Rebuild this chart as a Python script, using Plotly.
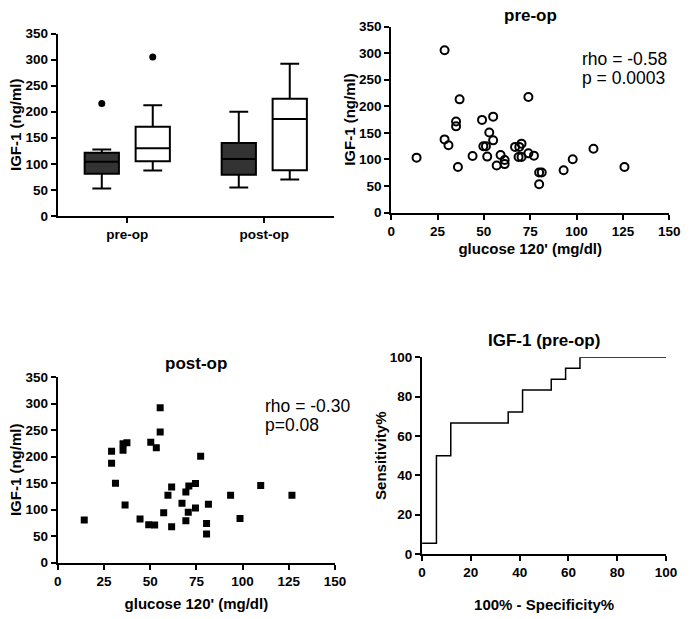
import plotly.graph_objects as go

# ---------------- data ----------------
groups = ["pre-op", "post-op"]
# dark boxes
dark_q1 = [81, 79]
dark_median = [104, 109]
dark_q3 = [121, 140]
dark_low = [52.5, 54.5]
dark_high = [127.5, 200]
dark_outliers = [216]          # pre-op only
# white boxes
white_q1 = [105, 87.5]
white_median = [130, 186]
white_q3 = [171, 225]
white_low = [87, 70]
white_high = [212.5, 292]
white_outliers = [305]         # pre-op only

pre_glucose = [13.7, 28.8, 28.8, 30.9, 35, 35, 36.9, 36, 43.9, 49, 55, 52.9, 55, 49.7, 51.1,
               51.8, 56.9, 59, 61.2, 61.2, 66.8, 69.1, 70.3, 68.7, 70.3, 74, 77, 74, 79.8,
               81.2, 79.8, 93, 97.9, 109.1, 125.8]
pre_igf1 = [103.4, 305.4, 137.7, 126.7, 171.4, 162.2, 213, 85.7, 106.5, 174.4, 180.5, 150.6,
            135.9, 124.8, 124.8, 105.3, 88.7, 108.3, 99, 91.2, 123.6, 123.6, 129.7, 104.7,
            104.7, 111.4, 107.1, 217.3, 75.3, 75.3, 53.2, 79.6, 100.4, 120, 85.7]

post_glucose = [14.3, 29.1, 29.1, 31.2, 35.3, 35.3, 37.4, 36.4, 44.5, 49.2, 50.3, 52.4, 53.3,
                55.4, 55.4, 57.3, 59.6, 61.6, 61.6, 67.2, 69.3, 70.9, 69.3, 70.6, 74.5, 74.5,
                77.3, 80.5, 80.5, 81.5, 93.5, 98.6, 109.8, 126.7]
post_igf1 = [80.4, 210, 187.2, 149.8, 211.8, 224, 225.9, 108.7, 82.3, 71.2, 227.1, 70.6, 216.7,
             246.2, 292.2, 93.9, 127.1, 142.4, 67.5, 111.7, 133.2, 144.3, 78.6, 95.1, 149.2,
             103.1, 200.7, 73.7, 54, 109.9, 127.1, 82.9, 145.5, 127.1]

roc_fpr = [0, 5.88, 11.76, 35.29, 41.18, 52.94, 58.82, 64.71, 100]
roc_sens = [5.56, 50, 66.67, 72.22, 83.33, 88.89, 94.44, 100, 100]

pre_stats = ["rho = -0.58", "p = 0.0003"]
post_stats = ["rho = -0.30", "p=0.08"]

# ---------------- layout helpers ----------------
W, H = 695, 619
FONT = "Liberation Sans, Arial, sans-serif"


def xd(a, b):
    return [a / W, b / W]


def yd(top, bottom):
    return [1 - bottom / H, 1 - top / H]


def px(x):
    return x / W


def py(y):
    return 1 - y / H


axis_common = dict(
    showline=True, linecolor="black", linewidth=2,
    ticks="outside", ticklen=5, tickwidth=2, tickcolor="black",
    showgrid=False, zeroline=False,
    tickfont=dict(family=FONT, size=13.5, color="black", weight="bold"),
    title_font=dict(family=FONT, size=15, color="black", weight="bold"),
)

fig = go.Figure()

# ---------------- box plot ----------------
offset = 0.186
pos = list(range(len(groups)))
fig.add_trace(go.Box(
    x=[p - offset for p in pos], q1=dark_q1, median=dark_median, q3=dark_q3,
    lowerfence=dark_low, upperfence=dark_high, width=0.25, whiskerwidth=0.55,
    fillcolor="#333333", line=dict(color="black", width=2), boxpoints=False,
    showlegend=False, xaxis="x", yaxis="y"))
fig.add_trace(go.Box(
    x=[p + offset for p in pos], q1=white_q1, median=white_median, q3=white_q3,
    lowerfence=white_low, upperfence=white_high, width=0.25, whiskerwidth=0.55,
    fillcolor="white", line=dict(color="black", width=2), boxpoints=False,
    showlegend=False, xaxis="x", yaxis="y"))
fig.add_trace(go.Scatter(
    x=[pos[0] - offset] * len(dark_outliers) + [pos[0] + offset] * len(white_outliers),
    y=dark_outliers + white_outliers, mode="markers",
    marker=dict(color="black", size=7), showlegend=False, xaxis="x", yaxis="y"))

# ---------------- pre-op scatter ----------------
fig.add_trace(go.Scatter(
    x=pre_glucose, y=pre_igf1, mode="markers",
    marker=dict(symbol="circle-open", size=8, color="black", line=dict(width=2)),
    showlegend=False, xaxis="x2", yaxis="y2"))

# ---------------- post-op scatter ----------------
fig.add_trace(go.Scatter(
    x=post_glucose, y=post_igf1, mode="markers",
    marker=dict(symbol="square", size=7, color="black"),
    showlegend=False, xaxis="x3", yaxis="y3"))

# ---------------- ROC ----------------
fig.add_trace(go.Scatter(
    x=roc_fpr, y=roc_sens, mode="lines", line=dict(shape="hv", color="black", width=1.5),
    showlegend=False, xaxis="x4", yaxis="y4"))

fig.update_layout(
    width=W, height=H, margin=dict(l=0, r=0, t=0, b=0),
    paper_bgcolor="white", plot_bgcolor="white",
    font=dict(family=FONT, color="black"),
    xaxis=dict(domain=xd(55, 337), range=[-0.507, 1.507], tickvals=pos, ticktext=groups,
               anchor="y", **axis_common),
    yaxis=dict(domain=yd(27.3, 214), range=[0, 350], dtick=50, anchor="x",
               title=dict(text="IGF-1 (ng/ml)", standoff=0), **axis_common),
    xaxis2=dict(domain=xd(395.7, 680), range=[0, 150], dtick=25, anchor="y2",
                title=dict(text="glucose 120' (mg/dl)", standoff=6), **axis_common),
    yaxis2=dict(domain=yd(20, 210.7), range=[0, 350], dtick=50, anchor="x2",
                title=dict(text="IGF-1 (ng/ml)", standoff=0), **axis_common),
    xaxis3=dict(domain=xd(55, 338.3), range=[0, 150], dtick=25, anchor="y3",
                title=dict(text="glucose 120' (mg/dl)", standoff=11), **axis_common),
    yaxis3=dict(domain=yd(379.3, 569.3), range=[0, 350], dtick=50, anchor="x3",
                title=dict(text="IGF-1 (ng/ml)", standoff=0), **axis_common),
    xaxis4=dict(domain=xd(427.3, 676.7), range=[0, 100], dtick=20, anchor="y4",
                title=dict(text="100% - Specificity%", standoff=20), **axis_common),
    yaxis4=dict(domain=yd(359, 560.7), range=[0, 100], dtick=20, anchor="x4",
                title=dict(text="Sensitivity%", standoff=0), **axis_common),
)

title_font = dict(family=FONT, size=17, color="black", weight="bold")
stat_font = dict(family=FONT, size=17.5, color="black")
ann = [
    dict(text="pre-op", x=px(538), y=py(9), font=title_font),
    dict(text="post-op", x=px(196.7), y=py(365), font=title_font),
    dict(text="IGF-1 (pre-op)", x=px(552), y=py(341.7), font=title_font),
]
for a in ann:
    a.update(xref="paper", yref="paper", showarrow=False, xanchor="center", yanchor="middle")
for i, t in enumerate(pre_stats):
    ann.append(dict(text=t, x=px(589), y=py(53 + 20 * i), xref="paper", yref="paper",
                    showarrow=False, xanchor="left", yanchor="middle", font=stat_font))
for i, t in enumerate(post_stats):
    ann.append(dict(text=t, x=px(265), y=py(409 + 19.5 * i), xref="paper", yref="paper",
                    showarrow=False, xanchor="left", yanchor="middle", font=stat_font))
fig.update_layout(annotations=ann)

# remove the browser's default body margin so the figure sits at the page origin
fig.write_html("out.html", config={"displayModeBar": False},
               post_script="document.body.style.margin='0';")
